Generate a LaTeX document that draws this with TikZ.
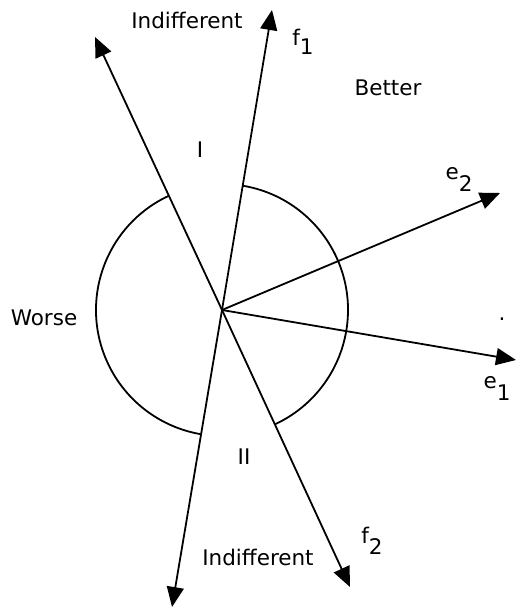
\documentclass[tikz,border=0pt]{standalone}
\usepackage{fontspec}
\setmainfont{DejaVu Sans}
\usetikzlibrary{arrows.meta}
\begin{document}
\begin{tikzpicture}[x=1pt,y=1pt,
  axis/.style={line width=1.8pt,-{Triangle[length=20pt,width=17pt]}},
  arcline/.style={line width=1.8pt},
  lbl/.style={font=\fontsize{21.5}{24}\selectfont,inner sep=0pt}]
\useasboundingbox (0,0) rectangle (515,609);
\coordinate (O) at (222,299);
\coordinate (aU) at (95,572);
\coordinate (aD) at (350,22);
\coordinate (bU) at (272,599);
\coordinate (bD) at (172,2);
\coordinate (e2t) at (500,416);
\coordinate (e1t) at (516,249);
\draw[axis] (O) -- (aU);
\draw[axis] (O) -- (aD);
\draw[axis] (O) -- (bU);
\draw[axis] (O) -- (bD);
\draw[axis] (O) -- (e2t);
\draw[axis] (O) -- (e1t);
\draw[arcline] (O) ++(80.5:126) arc[start angle=80.5, end angle=-65.2, radius=126];
\draw[arcline] (O) ++(114.9:126) arc[start angle=114.9, end angle=260.5, radius=126];
\node[lbl] (ind1) at (187,589) {Indifferent};
\node[lbl] (f1) at (303,567) {f\raisebox{-9pt}{1}};
\node[lbl] (better) at (388,521) {Better};
\node[lbl] (one) at (200,459) {I};
\node[lbl] (e2) at (459,430) {\raisebox{12pt}{e}2};
\node[lbl] (worse) at (44,291) {Worse};
\node[lbl] (dot) at (502,290) {.};
\node[lbl] (e1) at (497,221) {\raisebox{12pt}{e}1};
\node[lbl] (two) at (244,152) {II};
\node[lbl] (f2) at (372,68) {f\raisebox{-11pt}{2}};
\node[lbl] (ind2) at (258,52) {Indifferent};
\end{tikzpicture}
\end{document}
